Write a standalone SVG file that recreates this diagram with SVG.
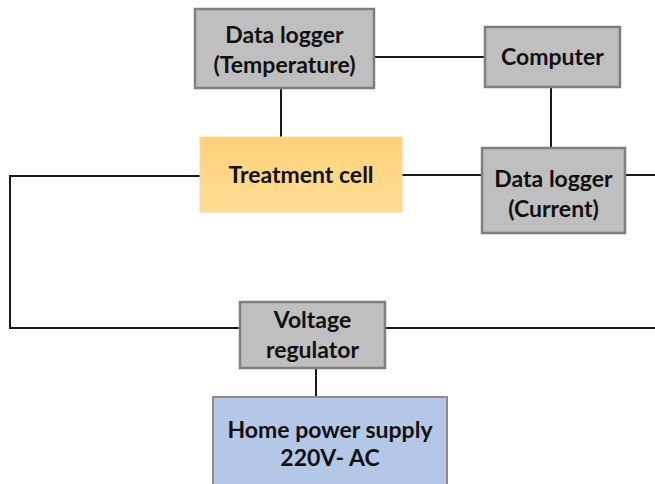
<svg xmlns="http://www.w3.org/2000/svg" width="655" height="484" viewBox="0 0 655 484">
  <defs>
    <linearGradient id="warm" x1="0" y1="0" x2="0" y2="1">
      <stop offset="0" stop-color="#FFD27A"/>
      <stop offset="1" stop-color="#FFDC94"/>
    </linearGradient>
  </defs>
  <style>
    .grey { fill: #BFBFBF; stroke: #7F7F7F; stroke-width: 2.5; }
    .cell { fill: url(#warm); stroke: #F5D9A0; stroke-width: 1; }
    .mains { fill: #B4C7E7; stroke: #8C8C8C; stroke-width: 2; }
    .wire { fill: none; stroke: #1A1A1A; stroke-width: 2; }
    text { font-family: "Lato", "Open Sans", "Liberation Sans", sans-serif; font-weight: bold; font-size: 23px; fill: #111111; text-anchor: middle; }
  </style>
  <rect width="655" height="484" fill="#FFFFFF"/>

  <g id="connectors">
    <line class="wire" x1="374" y1="57" x2="485" y2="57"/>
    <line class="wire" x1="281" y1="88" x2="281" y2="137"/>
    <line class="wire" x1="551" y1="87" x2="551" y2="148"/>
    <line class="wire" x1="402" y1="175" x2="482" y2="175"/>
    <line class="wire" x1="625" y1="175" x2="655" y2="175"/>
    <polyline class="wire" points="200,176 10,176 10,328 240,328"/>
    <line class="wire" x1="385" y1="328" x2="655" y2="328"/>
    <line class="wire" x1="316" y1="368" x2="316" y2="397"/>
  </g>

  <g id="logger-temperature">
    <rect class="grey" x="195" y="9" width="179" height="79"/>
    <text x="284.5" y="43">Data logger</text>
    <text x="284.5" y="73">(Temperature)</text>
  </g>

  <g id="computer">
    <rect class="grey" x="485" y="27" width="135" height="60"/>
    <text x="552.5" y="65">Computer</text>
  </g>

  <g id="treatment-cell">
    <rect class="cell" x="200" y="137" width="202" height="75"/>
    <text x="301" y="183">Treatment cell</text>
  </g>

  <g id="logger-current">
    <rect class="grey" x="482" y="148" width="143" height="85"/>
    <text x="553.5" y="187">Data logger</text>
    <text x="553.5" y="217">(Current)</text>
  </g>

  <g id="voltage-regulator">
    <rect class="grey" x="240" y="302" width="145" height="66"/>
    <text x="312.5" y="328">Voltage</text>
    <text x="312.5" y="358">regulator</text>
  </g>

  <g id="home-supply">
    <rect class="mains" x="213" y="397" width="234" height="95"/>
    <text x="330" y="438">Home power supply</text>
    <text x="330" y="466">220V- AC</text>
  </g>
</svg>
